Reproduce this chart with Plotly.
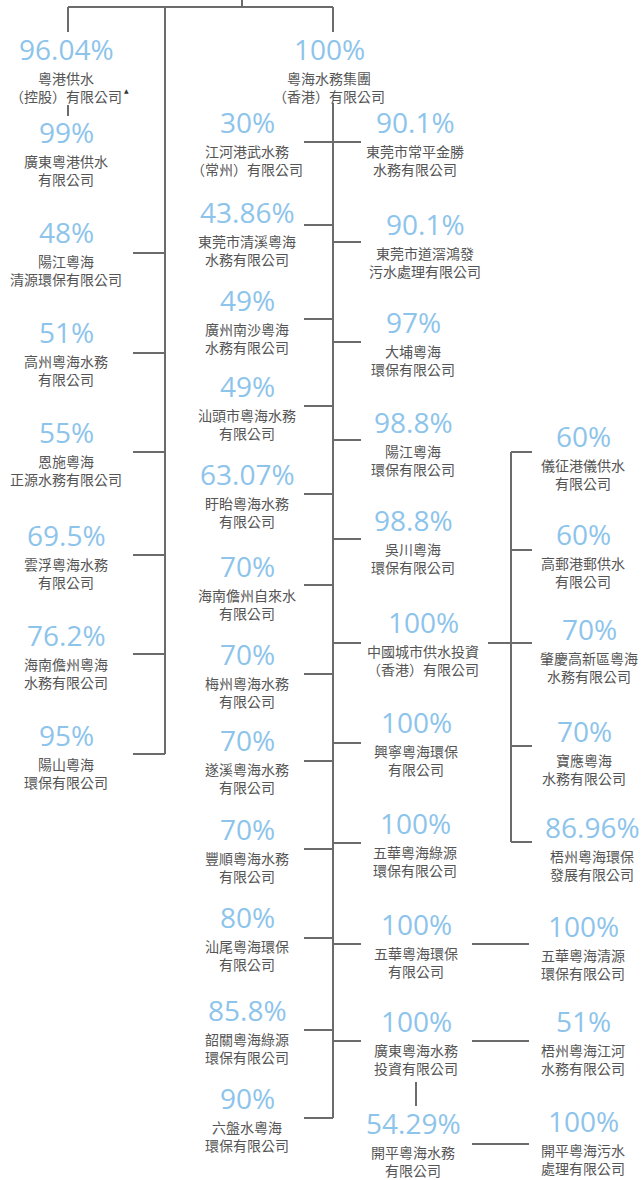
import plotly.graph_objects as go

# ---------------- data ----------------
# ownership percentages and company names (two lines each)
left_pct = ["96.04%", "99%", "48%", "51%", "55%", "69.5%", "76.2%", "95%"]
left_name1 = ["粵港供水", "廣東粵港供水", "陽江粵海", "高州粵海水務", "恩施粵海", "雲浮粵海水務", "海南儋州粵海", "陽山粵海"]
left_name2 = ["（控股）有限公司", "有限公司", "清源環保有限公司", "有限公司", "正源水務有限公司", "有限公司", "水務有限公司", "環保有限公司"]

top_pct = ["100%"]
top_name1 = ["粵海水務集團"]
top_name2 = ["（香港）有限公司"]

cl_pct = ["30%", "43.86%", "49%", "49%", "63.07%", "70%", "70%", "70%", "70%", "80%", "85.8%", "90%"]
cl_name1 = ["江河港武水務", "東莞市清溪粵海", "廣州南沙粵海", "汕頭市粵海水務", "盱眙粵海水務", "海南儋州自來水",
            "梅州粵海水務", "遂溪粵海水務", "豐順粵海水務", "汕尾粵海環保", "韶關粵海綠源", "六盤水粵海"]
cl_name2 = ["（常州）有限公司", "水務有限公司", "水務有限公司", "有限公司", "有限公司", "有限公司",
            "有限公司", "有限公司", "有限公司", "有限公司", "環保有限公司", "環保有限公司"]

cr_pct = ["90.1%", "90.1%", "97%", "98.8%", "98.8%", "100%", "100%", "100%", "100%", "100%", "54.29%"]
cr_name1 = ["東莞市常平金勝", "東莞市道滘鴻發", "大埔粵海", "陽江粵海", "吳川粵海", "中國城市供水投資",
            "興寧粵海環保", "五華粵海綠源", "五華粵海環保", "廣東粵海水務", "開平粵海水務"]
cr_name2 = ["水務有限公司", "污水處理有限公司", "環保有限公司", "環保有限公司", "環保有限公司", "（香港）有限公司",
            "有限公司", "環保有限公司", "有限公司", "投資有限公司", "有限公司"]

r_pct = ["60%", "60%", "70%", "70%", "86.96%", "100%", "51%", "100%"]
r_name1 = ["儀征港儀供水", "高郵港郵供水", "肇慶高新區粵海", "寶應粵海", "梧州粵海環保", "五華粵海清源", "梧州粵海江河", "開平粵海污水"]
r_name2 = ["有限公司", "有限公司", "水務有限公司", "水務有限公司", "發展有限公司", "環保有限公司", "水務有限公司", "處理有限公司"]

# ---------------- layout (positions in page pixels) ----------------
left_x = [66] * 8
left_y = [50, 133, 233, 333, 433, 536, 636, 736]
top_x = [329]
top_y = [50]
cl_x = [247] * 12
cl_y = [123, 213, 301, 387, 475, 567, 655, 741, 830, 918, 1011, 1099]
cr_x = [415, 425, 413, 413, 413, 423, 416, 415, 416, 416, 413]
cr_y = [123, 225, 323, 423, 521, 623, 723, 824, 925, 1022, 1124]
r_x = [583, 583, 589, 584, 592, 583, 583, 583]
r_y = [437, 535, 630, 732, 828, 927, 1022, 1122]

# connector geometry
W, H = 643, 1180
trunk_left, trunk_mid, trunk_china = 165, 333, 511
left_branch_y = [253, 353, 452, 555, 654, 754]
cl_branch_y = [142, 225, 319, 406, 494, 585, 674, 761, 849, 938, 1030, 1118]
cr_branch_y = [142, 242, 342, 440, 539, 643, 743, 843, 944, 1041]
china_branch_y = [452, 550, 643, 746, 842]
pair_branch_y = [944, 1041, 1144]

PCT_COLOR = "#8dc4eb"
TXT_COLOR = "#555555"
LINE_COLOR = "#6b6b6b"
PCT_FONT = "Open Sans, Noto Sans, sans-serif"
CJK_FONT = "Noto Sans CJK TC, Noto Sans CJK SC, sans-serif"

fig = go.Figure()
fig.add_trace(go.Scatter(x=[0, W], y=[0, H], mode="markers", marker=dict(opacity=0), hoverinfo="skip", showlegend=False))

shapes = []
def seg(x0, y0, x1, y1):
    shapes.append(dict(type="line", xref="x", yref="y", x0=x0, y0=y0, x1=x1, y1=y1,
                       line=dict(color=LINE_COLOR, width=2)))

# top bracket
seg(68, 7, trunk_mid, 7)
seg(242, 0, 242, 7)
seg(68, 7, 68, 32)
seg(trunk_mid, 7, trunk_mid, 32)
seg(68, 105, 68, 116)
# trunks
seg(trunk_left, 7, trunk_left, left_branch_y[-1])
seg(trunk_mid, 103, trunk_mid, cl_branch_y[-1])
seg(trunk_china, china_branch_y[0], trunk_china, china_branch_y[-1])
for y in left_branch_y:
    seg(133, y, trunk_left, y)
for y in cl_branch_y:
    seg(304, y, trunk_mid, y)
for y in cr_branch_y:
    seg(trunk_mid, y, 361, y)
seg(488, china_branch_y[2], trunk_china, china_branch_y[2])
for y in china_branch_y:
    seg(trunk_china, y, 532, y)
for y in pair_branch_y:
    seg(472, y, 529, y)
seg(416, 1082, 416, 1106)

annotations = []
def node(x, y, pct, n1, n2):
    annotations.append(dict(x=x, y=y - 1, xref="x", yref="y", text=pct, showarrow=False,
                            xanchor="center", yanchor="middle", borderpad=0,
                            font=dict(family=PCT_FONT, size=28, color=PCT_COLOR)))
    annotations.append(dict(x=x, y=y + 37, xref="x", yref="y", text=n1 + "<br>" + n2, showarrow=False,
                            xanchor="center", yanchor="middle", align="center", borderpad=0,
                            font=dict(family=CJK_FONT, size=14, color=TXT_COLOR)))

for xs, ys, ps, a, b in [(left_x, left_y, left_pct, left_name1, left_name2),
                         (top_x, top_y, top_pct, top_name1, top_name2),
                         (cl_x, cl_y, cl_pct, cl_name1, cl_name2),
                         (cr_x, cr_y, cr_pct, cr_name1, cr_name2),
                         (r_x, r_y, r_pct, r_name1, r_name2)]:
    for x, y, p, n1, n2 in zip(xs, ys, ps, a, b):
        node(x, y, p, n1, n2)

# footnote marker
annotations.append(dict(x=126, y=90, xref="x", yref="y", text="▲", showarrow=False,
                        xanchor="center", yanchor="middle",
                        font=dict(family="DejaVu Sans", size=6, color="#333333")))

fig.update_layout(
    width=W, height=H, margin=dict(l=0, r=0, t=0, b=0),
    paper_bgcolor="white", plot_bgcolor="white",
    xaxis=dict(range=[0, W], visible=False, fixedrange=True),
    yaxis=dict(range=[H, 0], visible=False, fixedrange=True),
    shapes=shapes, annotations=annotations, showlegend=False,
)

fig.write_html("out.html", config={"displayModeBar": False, "staticPlot": True},
               post_script="document.body.style.margin='0';document.body.style.overflow='hidden';")
